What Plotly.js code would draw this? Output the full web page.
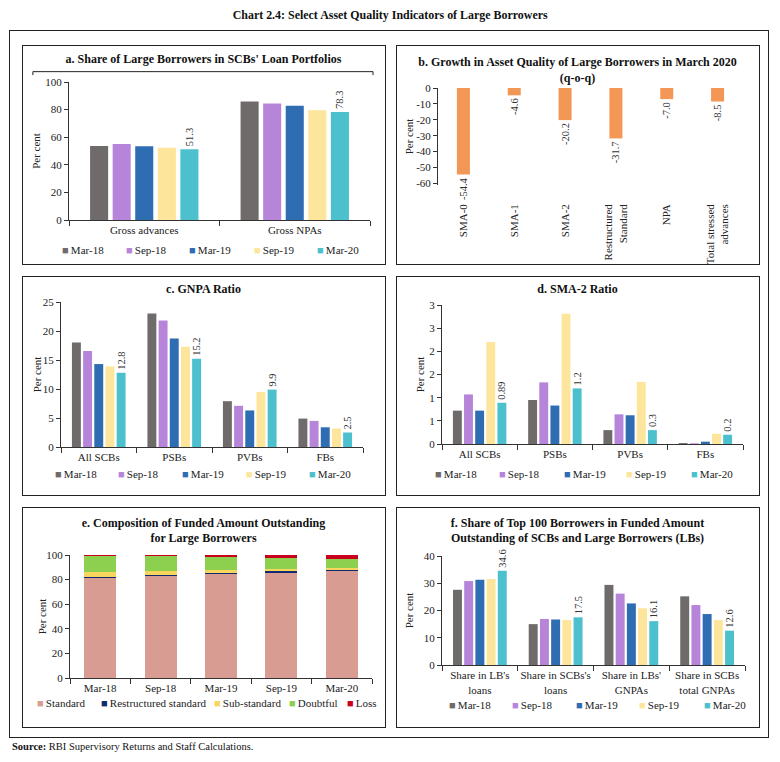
<!DOCTYPE html>
<html><head><meta charset="utf-8">
<script src="https://cdn.plot.ly/plotly-3.0.1.min.js"></script>
<style>
body{margin:0;background:#fff;width:780px;height:762px;position:relative;overflow:hidden;font-family:"Liberation Serif",serif;color:#111;}
#title{position:absolute;top:5px;left:0;width:780px;text-align:center;}
#title span{display:inline-block;font-weight:bold;font-size:13.5px;transform-origin:center;}
#outer{position:absolute;left:9px;top:30px;width:760px;height:708px;border:1.5px solid #222;box-sizing:border-box;}
.panel{position:absolute;border:1.5px solid #222;box-sizing:border-box;pointer-events:none;}
.plot{position:absolute;}
#source{position:absolute;left:12px;top:741px;font-size:10.5px;}
</style></head>
<body>
<div id="title"><span id="tt">Chart 2.4: Select Asset Quality Indicators of Large Borrowers</span></div>
<div id="outer"></div>
<div class="plot" id="pa" style="left:-8px;top:45px"></div>
<div class="plot" id="pb" style="left:366px;top:45px"></div>
<div class="plot" id="pc" style="left:-8px;top:276px"></div>
<div class="plot" id="pd" style="left:366px;top:276px"></div>
<div class="plot" id="pe" style="left:-8px;top:507px"></div>
<div class="plot" id="pf" style="left:366px;top:507px"></div>
<div class="panel" style="left:22px;top:45px;width:364px;height:220px"></div>
<div class="panel" style="left:396px;top:45px;width:364px;height:220px"></div>
<div class="panel" style="left:22px;top:276px;width:364px;height:220px"></div>
<div class="panel" style="left:396px;top:276px;width:364px;height:220px"></div>
<div class="panel" style="left:22px;top:507px;width:364px;height:221px"></div>
<div class="panel" style="left:396px;top:507px;width:364px;height:221px"></div>
<div id="source"><b>Source:</b> RBI Supervisory Returns and Staff Calculations.</div>
<script>
// ---------- DATA ----------
const periods = ['Mar-18','Sep-18','Mar-19','Sep-19','Mar-20'];

// a. Share of Large Borrowers in SCBs' Loan Portfolios
const catsA = ['Gross advances','Gross NPAs'];
const valsA = [[53.6,85.8],[55.0,84.4],[53.4,82.7],[52.4,79.6],[51.3,78.3]];

// b. Growth in Asset Quality (q-o-q)
const catsB = ['SMA-0','SMA-1','SMA-2','Restructured<br>Standard','NPA','Total stressed<br>advances'];
const valsB = [-54.4,-4.6,-20.2,-31.7,-7.0,-8.5];
const ticksB = [0,-10,-20,-30,-40,-50,-60];

// c. GNPA Ratio
const catsC = ['All SCBs','PSBs','PVBs','FBs'];
const valsC = [[18.0,23.0,7.9,4.9],[16.55,21.8,7.1,4.5],[14.3,18.7,6.3,3.4],[13.9,17.3,9.5,3.2],[12.8,15.2,9.9,2.5]];

// d. SMA-2 Ratio
const catsD = ['All SCBs','PSBs','PVBs','FBs'];
const valsD = [[0.72,0.95,0.30,0.02],[1.07,1.33,0.64,0.015],[0.72,0.83,0.62,0.05],[2.2,2.81,1.34,0.22],[0.89,1.2,0.30,0.2]];
const labelsD = ['0.89','1.2','0.3','0.2'];
const ticksD = [0,0.5,1,1.5,2,2.5,3];
const tickTextD = ['0','1','1','2','2','3','3'];

// e. Composition of Funded Amount Outstanding
const compNames = ['Standard','Restructured standard','Sub-standard','Doubtful','Loss'];
const standardE = [80.9,82.8,84.7,85.0,86.6];
const restructuredE = [1.4,1.1,0.8,1.6,0.9];
const substandardE = [3.5,2.7,2.5,2.2,2.2];
const doubtfulE = [13.1,12.3,10.4,9.0,7.4];
const lossE = [1.1,1.1,1.6,2.2,2.9];

// f. Share of Top 100 Borrowers
const catsF = ["Share in LB's<br>loans","Share in SCBs's<br>loans","Share in LBs'<br>GNPAs","Share in SCBs<br>total GNPAs"];
const valsF = [[27.6,15.0,29.4,25.2],[30.8,16.9,26.2,22.0],[31.3,16.7,22.6,18.7],[31.6,16.5,20.8,16.5],[34.6,17.5,16.1,12.6]];

// ---------- STYLE ----------
const FONT = '"Liberation Serif", serif';
const periodColors = ['#6f6b6b','#b685d9','#2f6db3','#fde59b','#4cc0cc'];
const compColors = ['#d99c92','#0d2b6e','#f8d55e','#8dd050','#c8001e'];
const PAD = 30;              // extra room on the left of each plot div (for legend placement)
const PW = 363, H = 219, W = PW + PAD;
const AX = '#333';
// legend entry left offsets (px, relative to panel's left edge)
const legPosA = [0,64,127,192,255];
const legPosC = [-7,56,120,184,247];
const legPosD = [-1,63,128,190,255];
const legPosE = [-25,39,152,227,285];
const legPosF = [13,76,140,203,268];

function layoutBase(m, title, titleY, standoff){
  m.l += PAD;
  return {
    width:W, height:H, margin:m,
    paper_bgcolor:'rgba(0,0,0,0)', plot_bgcolor:'rgba(0,0,0,0)',
    font:{family:FONT,size:11,color:'#222'},
    title:{text:title, font:{family:FONT,size:12,weight:700,color:'#111'},
      x:(PAD+PW/2)/W, xanchor:'center', xref:'container', yref:'container', y:1-titleY/H, yanchor:'middle'},
    showlegend:true,
    barmode:'group', bargap:0.26, bargroupgap:0.2,
    xaxis:{type:'category', showline:true, linecolor:AX, linewidth:1, ticks:'outside', tickson:'boundaries',
      ticklen:5, tickcolor:AX, showgrid:false, zeroline:false, tickfont:{size:11}, tickangle:0, fixedrange:true},
    yaxis:{showline:true, linecolor:AX, linewidth:1, ticks:'outside', ticklen:4, tickcolor:AX, showgrid:false,
      zeroline:false, tickfont:{size:11}, title:{text:'Per cent', font:{size:11}, standoff:standoff}, fixedrange:true}
  };
}
function addLegends(L, xs, y){
  xs.forEach((x,i)=>{
    L[i===0?'legend':'legend'+(i+1)] = {orientation:'h', x:(x+PAD)/W, xanchor:'left', xref:'container', yref:'container',
      y:1-y/H, yanchor:'middle', font:{family:FONT,size:11,color:'#222'}, itemwidth:30,
      bgcolor:'rgba(0,0,0,0)', itemclick:false, itemdoubleclick:false};
  });
}
const cfg = {displayModeBar:false, staticPlot:true};
// nudge the y-axis title closer to its tick labels, as in the original
function nudgeYTitle(gd, dx){
  const g = gd.querySelector('.g-ytitle');
  if(g) g.setAttribute('transform','translate('+dx+',0)');
}

// legend entries: coloured square drawn as a text glyph right before the label
function legendTrace(name, color, i){
  return {type:'scatter', mode:'markers', x:[null], y:[null], name:'<span style="color:'+color+'">■</span>\u2009'+name,
    marker:{color:'rgba(0,0,0,0)', size:0}, hoverinfo:'skip', showlegend:true, legend: i===0?'legend':'legend'+(i+1)};
}
function periodTraces(cats, vals, labels){
  const bars = periods.map((p,i)=>({
    type:'bar', name:p, x:cats, y:vals[i], marker:{color:periodColors[i]}, showlegend:false,
    text: i===periods.length-1 ? labels : undefined,
    textposition: i===periods.length-1 ? 'outside' : 'none', constraintext:'none',
    textangle:-90, textfont:{size:10.5,color:'#333'}, cliponaxis:false, hoverinfo:'skip'
  }));
  const leg = periods.map((p,i)=>legendTrace(p, periodColors[i], i));
  return bars.concat(leg);
}

// a
(function(){
  const L = layoutBase({l:47,r:15,t:37,b:44}, "a. Share of Large Borrowers in SCBs' Loan Portfolios", 14, 3);
  L.yaxis.range=[0,100]; L.yaxis.dtick=20;
  L.bargap=0.25;
  L.shapes=[{type:'path', xref:'paper', yref:'paper', path:'M -0.12,1.05 L -0.12,1.075 L 1.01,1.075 L 1.01,1.05', line:{color:'#222',width:1}}];
  addLegends(L, legPosA, 205);
  const last = valsA[valsA.length-1].map(v=>v.toFixed(1));
  Plotly.newPlot('pa', periodTraces(catsA, valsA, last), L, cfg).then(gd=>nudgeYTitle(gd,1));
})();

// b
(function(){
  const L = layoutBase({l:42,r:16,t:43,b:79}, 'b. Growth in Asset Quality of Large Borrowers in March 2020<br>(q-o-q)', 21, 0);
  L.showlegend=false;
  L.yaxis.range=[-61,0]; L.yaxis.tickvals=ticksB; L.yaxis.ticktext=ticksB.map(String);
  L.xaxis.showline=false; L.xaxis.ticks=''; L.xaxis.tickangle=-90; L.xaxis.ticklabelstandoff=16;
  L.xaxis2={overlaying:'x', anchor:'y', side:'top', range:[-0.5,catsB.length-0.5], showline:true, linecolor:AX,
    ticks:'inside', ticklen:4, tickcolor:AX, tickvals:catsB.map((c,i)=>i+0.5), showticklabels:false, showgrid:false, zeroline:false};
  L.bargap=0.68;
  Plotly.newPlot('pb', [{type:'bar', x:catsB, y:valsB, marker:{color:'#f29755'},
    text:valsB.map(v=>v.toFixed(1)), textposition:'outside', textangle:-90, constraintext:'none',
    textfont:{size:10.5,color:'#333'}, cliponaxis:false, hoverinfo:'skip', showlegend:false}], L, cfg);
})();

// c
(function(){
  const L = layoutBase({l:39,r:22,t:26,b:48}, 'c. GNPA Ratio', 13, 0);
  L.yaxis.range=[0,25]; L.yaxis.dtick=5;
  addLegends(L, legPosC, 198);
  const last = valsC[valsC.length-1].map(v=>v.toFixed(1));
  Plotly.newPlot('pc', periodTraces(catsC, valsC, last), L, cfg).then(gd=>nudgeYTitle(gd,2));
})();

// d
(function(){
  const L = layoutBase({l:46,r:16,t:29,b:51}, 'd. SMA-2 Ratio', 13, 5);
  L.yaxis.range=[0,3]; L.yaxis.tickvals=ticksD; L.yaxis.ticktext=tickTextD;
  addLegends(L, legPosD, 198);
  Plotly.newPlot('pd', periodTraces(catsD, valsD, labelsD), L, cfg).then(gd=>nudgeYTitle(gd,3));
})();

// e
(function(){
  const L = layoutBase({l:48,r:13,t:48,b:48}, 'e. Composition of Funded Amount Outstanding<br>for Large Borrowers', 19.5, 0);
  L.barmode='stack'; L.bargap=0.34;
  L.yaxis.range=[0,100]; L.yaxis.dtick=20;
  addLegends(L, legPosE, 196);
  const series=[standardE,restructuredE,substandardE,doubtfulE,lossE];
  const tr = series.map((s,i)=>({type:'bar', name:compNames[i], x:periods, y:s, marker:{color:compColors[i]}, hoverinfo:'skip', showlegend:false}));
  const leg = compNames.map((n,i)=>legendTrace(n, compColors[i], i));
  Plotly.newPlot('pe', tr.concat(leg), L, cfg).then(gd=>nudgeYTitle(gd,3));
})();

// f
(function(){
  const L = layoutBase({l:46,r:14,t:49,b:61}, 'f. Share of Top 100 Borrowers in Funded Amount<br>Outstanding of SCBs and Large Borrowers (LBs)', 19.5, 10);
  L.yaxis.range=[0,40]; L.yaxis.dtick=10;
  addLegends(L, legPosF, 198);
  const last = valsF[valsF.length-1].map(v=>v.toFixed(1));
  Plotly.newPlot('pf', periodTraces(catsF, valsF, last), L, cfg).then(gd=>nudgeYTitle(gd,3));
})();

// fit page title to the width of the original
(function(){
  const s=document.getElementById('tt'); const w=s.getBoundingClientRect().width;
  s.style.transform='scaleX('+(315/w)+')';
})();
</script>
</body></html>
